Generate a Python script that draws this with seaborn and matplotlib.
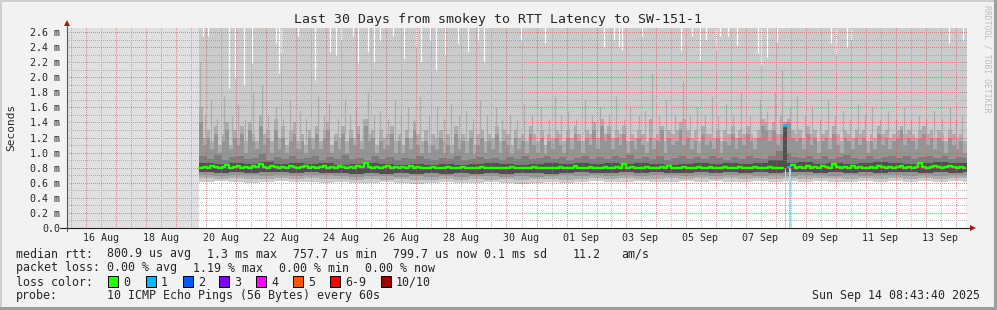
import numpy as np
import pandas as pd
import matplotlib
matplotlib.use("Agg")
import matplotlib.pyplot as plt
import matplotlib.dates as mdates
from matplotlib.patches import Rectangle
from matplotlib.ticker import MultipleLocator, NullFormatter
from matplotlib.transforms import blended_transform_factory
import seaborn as sns

sns.set_style("white")
plt.rcParams["font.family"] = ["DejaVu Sans Mono", "DejaVu Sans"]

# ---------------- data ----------------
title = "Last 30 Days from smokey to RTT Latency to SW-151-1"
t_begin = "2025-08-15 08:43:40"
t_end = "2025-09-14 08:43:40"
data_start = "2025-08-19 18:30"
step_hours = 3

# median RTT (ms), 3h bins
median_ms = [
    0.80, 0.81, 0.80, 0.82, 0.81, 0.80, 0.81, 0.83, 0.80, 0.81, 0.82, 0.80, 0.81, 0.80, 0.82, 0.81,
    0.85, 0.81, 0.80, 0.82, 0.81, 0.80, 0.81, 0.80, 0.82, 0.81, 0.80, 0.81, 0.82, 0.80, 0.81, 0.80,
    0.81, 0.82, 0.80, 0.81, 0.80, 0.82, 0.81, 0.80, 0.81, 0.80, 0.82, 0.81, 0.86, 0.81, 0.80, 0.81,
    0.80, 0.81, 0.82, 0.80, 0.81, 0.80, 0.81, 0.80, 0.82, 0.80, 0.81, 0.80, 0.79, 0.80, 0.81, 0.80,
    0.79, 0.80, 0.81, 0.80, 0.79, 0.80, 0.81, 0.79, 0.80, 0.79, 0.80, 0.81, 0.79, 0.80, 0.79, 0.80,
    0.79, 0.80, 0.79, 0.81, 0.80, 0.79, 0.80, 0.79, 0.80, 0.81, 0.79, 0.80, 0.79, 0.80, 0.79, 0.80,
    0.81, 0.80, 0.79, 0.80, 0.82, 0.80, 0.79, 0.80, 0.81, 0.80, 0.79, 0.80, 0.81, 0.80, 0.80, 0.81,
    0.80, 0.85, 0.80, 0.81, 0.80, 0.79, 0.80, 0.81, 0.80, 0.79, 0.80, 0.81, 0.80, 0.82, 0.80, 0.79,
    0.80, 0.81, 0.80, 0.79, 0.80, 0.81, 0.80, 0.80, 0.81, 0.80, 0.79, 0.80, 0.81, 0.80, 0.79, 0.80,
    0.81, 0.80, 0.79, 0.80, 0.81, 0.80, 0.79, 0.80, 0.81, 0.80, 0.80, 0.79, 1.35, 0.81, 0.83, 0.80,
    0.81, 0.80, 0.82, 0.80, 0.81, 0.80, 0.82, 0.81, 0.80, 0.85, 0.81, 0.80, 0.81, 0.80, 0.82, 0.80,
    0.81, 0.80, 0.79, 0.81, 0.80, 0.82, 0.81, 0.80, 0.81, 0.80, 0.81, 0.82, 0.80, 0.81, 0.80, 0.81,
    0.86, 0.81, 0.80, 0.81, 0.82, 0.81, 0.80, 0.81, 0.82, 0.81, 0.80, 0.81, 0.80,
]

# 9th ping (ms), 3h bins
ping9_ms = [
    1.60, 1.20, 1.30, 1.15, 1.35, 1.10, 1.25, 1.40, 1.10, 1.30, 1.20, 1.35, 1.15, 1.40, 1.25, 1.15,
    1.50, 1.25, 1.30, 1.15, 1.45, 1.20, 1.35, 1.10, 1.30, 1.40, 1.15, 1.25, 1.10, 1.30, 1.20, 1.35,
    1.15, 1.30, 1.40, 1.10, 1.25, 1.20, 1.35, 1.15, 1.30, 1.20, 1.35, 1.15, 1.45, 1.25, 1.30, 1.10,
    1.30, 1.20, 1.25, 1.35, 1.15, 1.25, 1.10, 1.30, 1.20, 1.40, 1.25, 1.15, 1.30, 1.10, 1.25, 1.20,
    1.30, 1.15, 1.25, 1.10, 1.35, 1.20, 1.25, 1.15, 1.30, 1.10, 1.25, 1.30, 1.15, 1.25, 1.20, 1.35,
    1.15, 1.30, 1.25, 1.10, 1.30, 1.20, 1.25, 1.15, 1.35, 1.25, 1.15, 1.30, 1.10, 1.25, 1.20, 1.30,
    1.25, 1.15, 1.30, 1.20, 1.35, 1.25, 1.15, 1.30, 1.25, 1.40, 1.20, 1.45, 1.25, 1.35, 1.20, 1.30,
    1.25, 1.35, 1.15, 1.25, 1.20, 1.30, 1.25, 1.15, 1.45, 1.20, 1.25, 1.35, 1.15, 1.30, 1.25, 1.30,
    1.40, 1.45, 1.30, 1.20, 1.30, 1.15, 1.35, 1.25, 1.25, 1.20, 1.30, 1.15, 1.30, 1.25, 1.35, 1.20,
    1.30, 1.25, 1.35, 1.25, 1.20, 1.30, 1.45, 1.40, 1.30, 1.40, 1.25, 1.50, 1.40, 1.45, 1.30, 1.25,
    1.30, 1.20, 1.35, 1.25, 1.30, 1.15, 1.25, 1.30, 1.20, 1.35, 1.25, 1.15, 1.30, 1.25, 1.20, 1.30,
    1.25, 1.30, 1.15, 1.25, 1.20, 1.35, 1.25, 1.30, 1.20, 1.25, 1.30, 1.35, 1.25, 1.30, 1.25, 1.20,
    1.30, 1.35, 1.25, 1.30, 1.20, 1.30, 1.25, 1.15, 1.30, 1.25, 1.20, 1.25, 1.15,
]

# thin tall spikes of the 9th ping (hours after data start, ms)
spike_hours = [0.5, 5, 9.6, 14, 20, 26, 31.2, 37, 43.2, 50.4, 55, 61.7, 67, 72.9, 80.9, 86,
               95.3, 100, 104.1, 111, 116.9, 121, 125.7, 131, 135.4, 140, 145, 151, 157, 162,
               167.4, 172, 177, 184, 190.6, 196, 201.8, 208, 213.8, 219, 225.1, 231, 237.9,
               243, 249.1, 255, 260.3, 267, 273.9, 280, 285.2, 290, 295.6, 302, 309.2, 315,
               321.3, 328, 334.1, 340, 345.3, 352, 357, 362.9, 368, 374.1, 381, 387.7, 393,
               398.9, 405, 410.9, 416, 422.2, 428, 434.2, 441, 449.4, 455, 461.4, 467, 473,
               479, 485, 491, 497, 503.8, 509, 515.8, 521, 527.8, 533, 539, 545, 551.8, 558,
               564.6, 570, 576.6, 582, 588.6, 595, 601.5, 606, 611.1]
spike_ms = [2.20, 1.50, 1.70, 1.45, 1.75, 1.50, 1.65, 1.45, 1.80, 1.90, 1.50, 1.60, 1.45,
            1.70, 1.55, 1.45, 1.75, 1.50, 1.65, 1.45, 1.70, 1.50, 1.60, 1.45, 1.80, 1.50,
            1.55, 1.45, 1.70, 1.50, 1.60, 1.45, 1.75, 1.50, 1.60, 1.45, 1.65, 1.50, 1.55,
            1.45, 1.70, 1.50, 1.60, 1.45, 1.50, 1.45, 1.65, 1.50, 1.60, 1.45, 1.75, 1.50,
            1.55, 1.45, 1.70, 1.50, 1.60, 1.50, 1.75, 1.45, 1.60, 1.50, 1.55, 2.05, 1.50,
            1.70, 1.50, 1.95, 1.50, 1.60, 1.50, 1.75, 1.50, 1.65, 1.50, 1.80, 1.50, 1.70,
            1.55, 1.80, 2.10, 1.60, 1.75, 1.50, 1.60, 1.45, 1.70, 1.50, 1.55, 1.45, 1.65,
            1.50, 1.60, 1.45, 1.55, 1.45, 1.60, 1.45, 1.50, 1.45, 1.55, 1.45, 1.60, 1.45,
            1.50]

# 8th ping (ms), 3h bins
ping8_ms = [
    1.40, 1.10, 1.20, 1.05, 1.25, 1.00, 1.15, 1.30, 1.05, 1.20, 1.10, 1.25, 1.00, 1.30, 1.15, 1.05,
    1.35, 1.10, 1.20, 1.00, 1.30, 1.05, 1.20, 1.00, 1.15, 1.25, 1.05, 1.15, 1.00, 1.20, 1.05, 1.25,
    1.05, 1.20, 1.30, 1.00, 1.15, 1.05, 1.25, 1.00, 1.20, 1.10, 1.25, 1.05, 1.35, 1.15, 1.20, 1.00,
    1.15, 1.05, 1.10, 1.25, 1.00, 1.15, 1.00, 1.20, 1.05, 1.30, 1.10, 1.00, 1.15, 1.00, 1.10, 1.05,
    1.20, 1.00, 1.10, 0.98, 1.25, 1.05, 1.15, 1.00, 1.20, 0.98, 1.10, 1.20, 1.00, 1.15, 1.05, 1.25,
    1.00, 1.15, 1.10, 0.98, 1.20, 1.05, 1.15, 1.00, 1.25, 1.10, 1.00, 1.20, 0.98, 1.15, 1.05, 1.20,
    1.10, 1.00, 1.20, 1.05, 1.25, 1.15, 1.00, 1.20, 1.10, 1.30, 1.05, 1.35, 1.15, 1.25, 1.05, 1.20,
    1.10, 1.25, 1.00, 1.15, 1.05, 1.20, 1.10, 1.00, 1.20, 1.05, 1.15, 1.30, 1.00, 1.20, 1.10, 1.15,
    1.30, 1.10, 1.20, 1.05, 1.15, 1.00, 1.25, 1.10, 1.15, 1.05, 1.20, 1.00, 1.15, 1.10, 1.25, 1.05,
    1.20, 1.10, 1.25, 1.15, 1.05, 1.20, 1.35, 1.30, 1.15, 1.30, 1.10, 1.25, 1.38, 1.40, 1.20, 1.15,
    1.20, 1.05, 1.25, 1.10, 1.20, 1.00, 1.15, 1.20, 1.05, 1.25, 1.10, 1.00, 1.20, 1.15, 1.05, 1.20,
    1.10, 1.20, 1.00, 1.15, 1.05, 1.25, 1.10, 1.20, 1.05, 1.15, 1.20, 1.30, 1.10, 1.20, 1.15, 1.05,
    1.20, 1.25, 1.10, 1.20, 1.05, 1.20, 1.15, 1.00, 1.20, 1.10, 1.05, 1.15, 1.00,
]

# 7th ping (ms), 6h bins
ping7_ms_6h = [
    0.95, 0.92, 0.97, 0.90, 0.94, 0.96, 0.91, 0.93, 0.98, 0.90, 0.94, 0.92, 0.96, 0.91, 0.93, 0.95,
    0.90, 0.94, 0.92, 0.97, 0.91, 0.93, 0.90, 0.95, 0.92, 0.94, 0.90, 0.93, 0.91, 0.95, 0.92, 0.90,
    0.93, 0.91, 0.95, 0.90, 0.92, 0.94, 0.91, 0.93, 0.90, 0.94, 0.92, 0.96, 0.91, 0.93, 0.95, 0.92,
    0.94, 0.90, 0.93, 0.96, 0.91, 0.94, 0.92, 0.95, 0.93, 0.97, 0.91, 0.94, 0.92, 0.95, 0.90, 0.93,
    0.96, 0.91, 0.94, 0.92, 0.95, 0.93, 0.90, 0.94, 0.92, 0.96, 0.93, 0.91, 0.95, 1.02, 1.00, 0.94,
    0.93, 0.96, 0.91, 0.95, 0.92, 0.94, 0.97, 0.93, 0.91, 0.95, 0.92, 0.94, 0.96, 0.93, 0.95, 0.92,
    0.94, 0.96, 0.93, 0.95, 0.92, 0.94, 0.93,
]

# 6th / 4th / 3rd / 2nd / 1st ping (ms), 12h bins
ping6_ms_12h = [
    0.86, 0.85, 0.86, 0.85, 0.87, 0.85, 0.86, 0.85, 0.86, 0.84, 0.85, 0.86, 0.85, 0.84, 0.85, 0.84,
    0.85, 0.84, 0.85, 0.86, 0.85, 0.84, 0.85, 0.86, 0.85, 0.86, 0.85, 0.86, 0.85, 0.86, 0.85, 0.84,
    0.85, 0.86, 0.85, 0.86, 0.85, 0.86, 0.90, 0.86, 0.87, 0.85, 0.86, 0.85, 0.86, 0.87, 0.86, 0.85,
    0.86, 0.87, 0.86, 0.86,
]
ping4_ms_12h = [
    0.74, 0.73, 0.74, 0.73, 0.74, 0.74, 0.73, 0.74, 0.73, 0.73, 0.72, 0.73, 0.72, 0.73, 0.72, 0.73,
    0.72, 0.73, 0.72, 0.73, 0.72, 0.73, 0.73, 0.72, 0.73, 0.74, 0.73, 0.73, 0.74, 0.73, 0.74, 0.73,
    0.73, 0.74, 0.73, 0.74, 0.73, 0.74, 0.73, 0.74, 0.74, 0.73, 0.74, 0.73, 0.74, 0.73, 0.74, 0.74,
    0.73, 0.74, 0.73, 0.74,
]
ping3_ms_12h = [
    0.70, 0.69, 0.70, 0.70, 0.69, 0.70, 0.69, 0.70, 0.70, 0.69, 0.68, 0.69, 0.69, 0.68, 0.69, 0.68,
    0.69, 0.68, 0.69, 0.69, 0.68, 0.69, 0.68, 0.69, 0.70, 0.69, 0.70, 0.69, 0.70, 0.69, 0.70, 0.70,
    0.69, 0.70, 0.69, 0.70, 0.70, 0.69, 0.70, 0.69, 0.70, 0.70, 0.69, 0.70, 0.69, 0.70, 0.70, 0.69,
    0.70, 0.69, 0.70, 0.70,
]
ping2_ms_12h = [
    0.66, 0.65, 0.66, 0.65, 0.65, 0.66, 0.65, 0.66, 0.65, 0.65, 0.64, 0.65, 0.64, 0.65, 0.64, 0.64,
    0.65, 0.64, 0.65, 0.64, 0.65, 0.64, 0.65, 0.65, 0.64, 0.65, 0.66, 0.65, 0.66, 0.65, 0.65, 0.66,
    0.65, 0.66, 0.65, 0.66, 0.65, 0.66, 0.65, 0.66, 0.65, 0.66, 0.66, 0.65, 0.66, 0.65, 0.66, 0.65,
    0.66, 0.65, 0.66, 0.66,
]
ping1_ms_12h = [
    0.61, 0.62, 0.61, 0.60, 0.61, 0.62, 0.61, 0.61, 0.60, 0.61, 0.60, 0.60, 0.61, 0.60, 0.59, 0.60,
    0.61, 0.60, 0.60, 0.61, 0.60, 0.59, 0.60, 0.61, 0.60, 0.61, 0.62, 0.61, 0.61, 0.62, 0.61, 0.61,
    0.62, 0.61, 0.62, 0.61, 0.61, 0.62, 0.61, 0.62, 0.61, 0.62, 0.61, 0.61, 0.62, 0.61, 0.62, 0.61,
    0.62, 0.61, 0.62, 0.61,
]

# times (hours after data start) where the max ping stayed below the top of the graph
dip_hours = [3, 7, 24, 29, 36, 42, 62, 64, 66, 79, 93, 105, 110, 114, 123, 127, 135, 140,
             145, 155, 164, 174, 178, 185, 190, 197, 207, 215, 223, 228, 258, 277, 324, 332,
             336, 339, 355, 386, 395, 401, 406, 414, 417, 424, 431, 448, 450, 455, 463, 506,
             510, 519, 522, 601, 612]
dip_max_ms = [2.55, 2.55, 1.86, 1.99, 1.90, 2.19, 2.45, 2.06, 2.32, 2.55, 1.96, 2.33, 2.29,
              2.50, 2.55, 2.19, 2.33, 2.20, 2.50, 2.55, 2.25, 2.40, 2.20, 2.50, 2.10, 2.30,
              2.45, 2.35, 2.50, 2.20, 2.50, 2.45, 2.40, 2.50, 2.40, 2.36, 2.55, 2.36, 2.55,
              2.23, 2.50, 2.36, 2.55, 2.55, 2.43, 2.32, 2.16, 2.27, 2.47, 2.45, 2.30, 2.40,
              2.50, 2.45, 2.50]

# packet loss events (hours after data start, pings lost)
loss_hours = [469.5, 473.5]
loss_counts = [1, 1]

ytick_values = [0.0, 0.2, 0.4, 0.6, 0.8, 1.0, 1.2, 1.4, 1.6, 1.8, 2.0, 2.2, 2.4, 2.6]
ytick_labels = ["0.0", "0.2 m", "0.4 m", "0.6 m", "0.8 m", "1.0 m", "1.2 m", "1.4 m",
                "1.6 m", "1.8 m", "2.0 m", "2.2 m", "2.4 m", "2.6 m"]
xtick_labels = ["16 Aug", "18 Aug", "20 Aug", "22 Aug", "24 Aug", "26 Aug", "28 Aug",
                "30 Aug", "01 Sep", "03 Sep", "05 Sep", "07 Sep", "09 Sep", "11 Sep", "13 Sep"]

stats_rtt = [("median rtt:", 16), ("800.9 us avg", 107), ("1.3 ms max", 207),
             ("757.7 us min", 293), ("799.7 us now", 393), ("0.1 ms sd", 484),
             ("11.2", 573), ("am/s", 621)]
stats_loss = [("packet loss:", 16), ("0.00 % avg", 107), ("1.19 % max", 193),
              ("0.00 % min", 279), ("0.00 % now", 365)]
loss_legend_labels = ["0", "1", "2", "3", "4", "5", "6-9", "10/10"]
loss_legend_colors = ["#26ff00", "#00b8ff", "#0059ff", "#7e00ff", "#ff00ff", "#ff5500",
                      "#ff0000", "#a10000"]
probe_text = "10 ICMP Echo Pings (56 Bytes) every 60s"
stamp_text = "Sun Sep 14 08:43:40 2025"

# ---------------- figure ----------------
W, H = 997, 310
AX_L, AX_T, AX_W, AX_H = 67, 28, 899, 200
BG = "#f2f2f2"
PX = 0.72  # one pixel in points
fig = plt.figure(figsize=(W / 100, H / 100), dpi=100, facecolor=BG)


def fx(x):
    return x / W


def fy(y):
    return 1 - y / H


ax = fig.add_axes([fx(AX_L), fy(AX_T + AX_H), AX_W / W, AX_H / H])
ax.set_facecolor("white")

YTOP = 2.653
x0 = mdates.date2num(pd.Timestamp(t_begin))
x1 = mdates.date2num(pd.Timestamp(t_end))
n = len(median_ms)
times = pd.date_range(pd.Timestamp(data_start), periods=n + 1, freq=f"{step_hours}h")
xs = mdates.date2num(times.to_pydatetime())
t0 = xs[0]


def up(a, k):
    r = np.repeat(np.asarray(a, dtype=float), k)
    if len(r) < n:
        r = np.concatenate([r, np.full(n - len(r), r[-1])])
    return r[:n]


levels = np.vstack([
    up(ping1_ms_12h, 4), up(ping2_ms_12h, 4), up(ping3_ms_12h, 4), up(ping4_ms_12h, 4),
    up(median_ms, 1), up(ping6_ms_12h, 4), up(ping7_ms_6h, 2), up(ping8_ms, 1), up(ping9_ms, 1),
])
levels = np.maximum.accumulate(levels, axis=0)
p1, p2, p3, p4, med, p6, p7, p8, p9 = levels
top = np.full(n, 2.75)


def ext(a):
    return np.append(a, a[-1])


C_OUT, C_2, C_3, C_4, C_CORE = "#cbcbcb", "#adadad", "#959595", "#7c7c7c", "#505050"
bands = [
    (p1, p2, C_OUT), (p2, p3, C_2), (p3, p4, C_3), (p4, p6, C_CORE),
    (p6, p7, C_4), (p7, p8, C_3), (p8, p9, C_2), (p9, top, C_OUT),
]
for lo, hi, c in bands:
    ax.fill_between(xs, ext(lo), ext(hi), step="post", color=c, lw=0, zorder=1)

# thin spikes of the 9th ping
sp_x = t0 + np.asarray(spike_hours) / 24.0
sp_bin = np.clip((np.asarray(spike_hours) // step_hours).astype(int), 0, n - 1)
ax.vlines(sp_x, p8[sp_bin], spike_ms, color=C_2, lw=PX * 1.2, zorder=1.2)

# unknown region before data
ax.axvspan(x0, t0, color="#e0e0e0", lw=0, zorder=0.8)

# max ping dips (white above max)
dip_x = t0 + np.asarray(dip_hours) / 24.0
ax.vlines(dip_x, dip_max_ms, 2.75, color="white", lw=PX * 1.2, zorder=1.5)

# loss vertical markers
loss_x = t0 + np.asarray(loss_hours) / 24.0
loss_bins = [int(h // step_hours) for h in loss_hours]
for lx, w in zip(loss_x, [1.0, 2.0]):
    ax.vlines(lx, 0, 0.79, color="#a4dcf3", lw=PX * w, zorder=1.6)

# median line, green where no loss
med_green = med.copy()
for b in loss_bins:
    med_green[b] = np.nan
valid = ~np.isnan(med_green)
i = 0
while i < n:
    if valid[i]:
        j = i
        while j + 1 < n and valid[j + 1]:
            j += 1
        seg_x = xs[i:j + 2]
        seg_y = np.append(med_green[i:j + 1], med_green[j])
        sns.lineplot(x=seg_x, y=seg_y, drawstyle="steps-post", color="#26ff00", lw=1.7,
                     estimator=None, sort=False, ax=ax, zorder=4)
        i = j + 1
    else:
        i += 1
for b, cnt in zip(loss_bins, loss_counts):
    ax.hlines(med[b], xs[b], xs[b + 1], color=loss_legend_colors[cnt], lw=1.7, zorder=4.5)

# axes ticks
ax.grid(False)
for s in ax.spines.values():
    s.set_visible(False)
ax.xaxis.set_major_locator(mdates.DayLocator())
ax.xaxis.set_minor_locator(mdates.HourLocator(byhour=[12]))
ax.xaxis.set_major_formatter(NullFormatter())
ax.xaxis.set_minor_formatter(NullFormatter())
ax.set_yticks(ytick_values)
ax.set_yticklabels(ytick_labels, fontsize=7.2)
ax.yaxis.set_minor_locator(MultipleLocator(0.1))
ax.tick_params(axis="x", which="major", length=2.5, width=PX, color=(0.87, 0.31, 0.31),
               direction="out")
ax.tick_params(axis="x", which="minor", length=2, width=PX, color="#8f8f8f", direction="out")
ax.tick_params(axis="y", which="major", length=2.2, width=PX, color="#555555",
               direction="out", pad=2.6)
ax.tick_params(axis="y", which="minor", length=1.5, width=PX, color="#8f8f8f",
               direction="out")
ax.set_xlim(x0, x1)
ax.set_ylim(0, YTOP)

# dotted grid (1 px on, 1 px off) as a pixel overlay on top of the graph
day_locs = mdates.DayLocator().tick_values(mdates.num2date(x0), mdates.num2date(x1))
half_locs = mdates.HourLocator(byhour=[12]).tick_values(mdates.num2date(x0), mdates.num2date(x1))
ymaj = np.asarray(ytick_values)
ymin = np.round(np.arange(0.1, 2.65, 0.2), 2)

grid_img = np.zeros((AX_H, AX_W, 4))
MINOR = (0.56, 0.56, 0.56, 0.6)
MAJOR = (0.87, 0.31, 0.31, 0.6)


def col_of(v):
    return int(round((v - x0) / (x1 - x0) * AX_W))


def row_of(v):
    return int(round(AX_H - v / YTOP * AX_H))


for vals, color in ((half_locs, MINOR), (day_locs, MAJOR)):
    for v in vals:
        c = col_of(v)
        if 0 <= c < AX_W:
            grid_img[0::2, c] = color
for vals, color in ((ymin, MINOR), (ymaj[1:], MAJOR)):
    for v in vals:
        r = row_of(v)
        if 0 <= r < AX_H:
            grid_img[r, 0::2] = color
ax.imshow(grid_img, extent=(0, 1, 0, 1), transform=ax.transAxes, aspect="auto",
          interpolation="nearest", zorder=3)
ax.set_xlim(x0, x1)
ax.set_ylim(0, YTOP)
ax.set_xlabel("")
ax.set_ylabel("")

# axis lines and arrows
ax.plot([-7 / AX_W, 1 + 5 / AX_W], [0, 0], transform=ax.transAxes, color="#1f1f1f", lw=0.8,
        clip_on=False, zorder=6)
ax.plot([0, 0], [-3 / AX_H, 1 + 4 / AX_H], transform=ax.transAxes, color="#555555", lw=0.8,
        clip_on=False, zorder=6)
ax.plot([1 + 7 / AX_W], [0], marker=">", ms=4.2, color="#a01c1c", transform=ax.transAxes,
        clip_on=False, zorder=7, mew=0)
ax.plot([0], [1 + 5 / AX_H], marker="^", ms=4.2, color="#a01c1c", transform=ax.transAxes,
        clip_on=False, zorder=7, mew=0)

# x tick labels centred at noon
trans = blended_transform_factory(ax.transData, ax.transAxes)
for lab in xtick_labels:
    d = pd.to_datetime(lab + " 2025", format="%d %b %Y") + pd.Timedelta(hours=12)
    ax.text(mdates.date2num(d), -10 / AX_H, lab, transform=trans, ha="center", va="center",
            fontsize=7.2)

# texts
fig.text(fx(497.5), fy(19), title, ha="center", va="center", fontsize=9.55)
fig.text(fx(11), fy(127), "Seconds", rotation=90, ha="center", va="center", fontsize=8)
fig.text(fx(987), fy(5), "RRDTOOL / TOBI OETIKER", rotation=270, ha="center", va="top",
         fontsize=5.9, color="#bdbdbd")

FS = 8.35
for txt, xp in stats_rtt:
    fig.text(fx(xp), fy(254), txt, ha="left", va="center", fontsize=FS)
for txt, xp in stats_loss:
    fig.text(fx(xp), fy(268), txt, ha="left", va="center", fontsize=FS)
fig.text(fx(16), fy(282), "loss color:", ha="left", va="center", fontsize=FS)
sq_x = [108, 146, 183, 219, 256, 293, 330, 381]
for xp, lab, c in zip(sq_x, loss_legend_labels, loss_legend_colors):
    fig.add_artist(Rectangle((fx(xp), fy(287)), 10 / W, 11 / H, transform=fig.transFigure,
                             facecolor=c, edgecolor="black", lw=0.7))
    fig.text(fx(xp + 15), fy(282), lab, ha="left", va="center", fontsize=FS)
fig.text(fx(16), fy(296), "probe:", ha="left", va="center", fontsize=FS)
fig.text(fx(107), fy(296), probe_text, ha="left", va="center", fontsize=FS)
fig.text(fx(980), fy(296), stamp_text, ha="right", va="center", fontsize=FS)

# frame shading
fig.add_artist(Rectangle((0, 1 - 2 / H), 1, 2 / H, transform=fig.transFigure, color="#cfcfcf", lw=0))
fig.add_artist(Rectangle((0, 0), 2 / W, 1, transform=fig.transFigure, color="#cfcfcf", lw=0))
fig.add_artist(Rectangle((0, 0), 1, 3 / H, transform=fig.transFigure, color="#9e9e9e", lw=0))
fig.add_artist(Rectangle((1 - 3 / W, 0), 3 / W, 1, transform=fig.transFigure, color="#9e9e9e", lw=0))

fig.savefig("out.png", dpi=100, facecolor=BG)
